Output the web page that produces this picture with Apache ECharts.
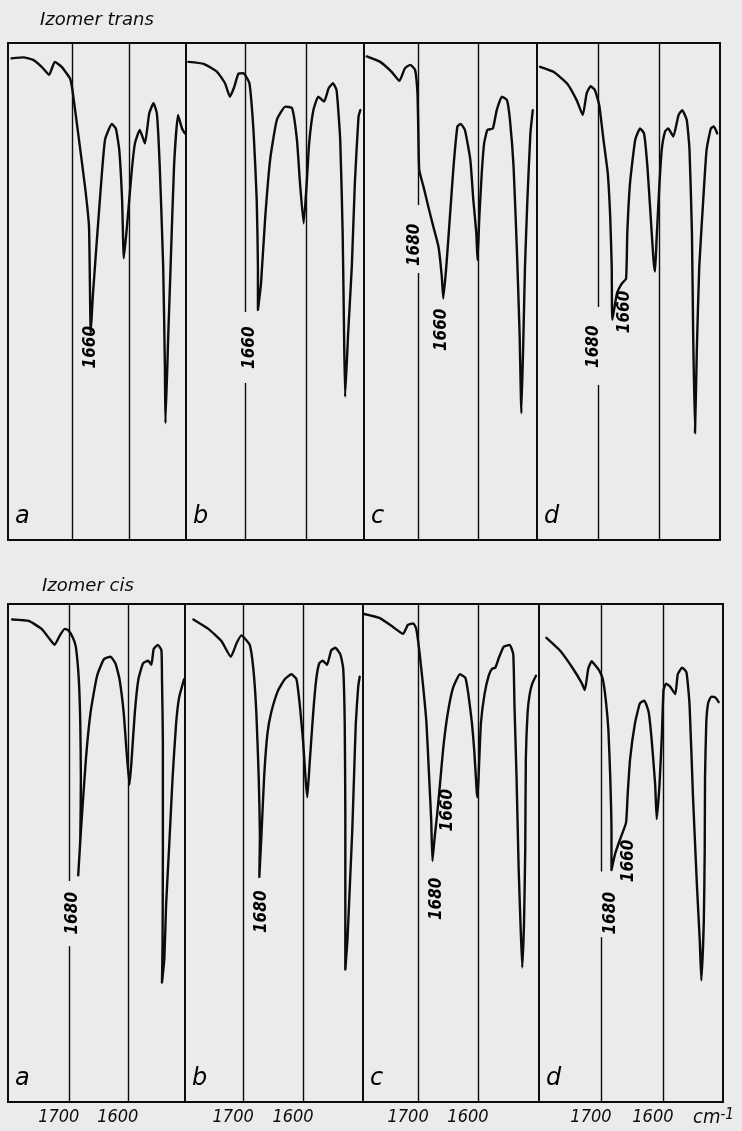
<!DOCTYPE html>
<html><head><meta charset="utf-8">
<script src="https://cdn.jsdelivr.net/npm/echarts@6.0.0/dist/echarts.min.js"></script>
<style>html,body{margin:0;padding:0;background:#ebebeb}#chart{width:742px;height:1131px}</style>
</head><body><div id="chart"></div>
<script>
// ---------- data ----------
const panelLetters = ['a', 'b', 'c', 'd'];
const rowTitles = ['Izomer trans', 'Izomer cis'];
const tickValues = [1700, 1600];
const unitLabel = ['cm', '-1'];

// wavenumber (cm-1), transmission (% of frame height)
const transA = [[1806,96.9],[1785,97.1],[1768,96.6],[1753,95.2],[1740,93.6],[1730,96.2],[1718,95.2],[1703.5,92.9],[1699,90.5],[1689,81.8],[1677,71.1],[1670,63],[1667,41.6],[1663,49.6],[1651,68.4],[1642,80.5],[1630,83.7],[1623,82.8],[1617,78.5],[1612,68.4],[1609,56.7],[1604,62.4],[1595.5,73.8],[1589.5,79.8],[1581,82.5],[1572,79.8],[1564.5,85.8],[1557,87.9],[1551,85.8],[1546,75.1],[1540,55],[1537,34.9],[1536,23.5],[1531,41.6],[1527,55],[1521,75.1],[1514,85.5],[1507,82.8],[1502,81.8]];
const transB = [[1793,96.2],[1768,95.8],[1746,94.2],[1733,91.9],[1725,89.2],[1718,91.1],[1711,93.8],[1703,93.9],[1693,91.9],[1686,81.8],[1681,68.4],[1679,55],[1679,46.3],[1674,51.6],[1667,65],[1659,76.5],[1648,84.5],[1634,87.2],[1623,86.9],[1615,80.5],[1610,71.8],[1604,63.7],[1599,71.8],[1595,79.8],[1588,86.5],[1580,89.2],[1570.5,88.2],[1563,90.9],[1556,91.9],[1550,90.5],[1544,80.5],[1540,61.7],[1538,44.3],[1536,28.8],[1531,41.6],[1525,55],[1520,71.8],[1514,85.2],[1511,86.5]];
const transC = [[1785.5,97.3],[1763,96.2],[1744,94.2],[1731,92.4],[1722,94.9],[1713,95.6],[1705,94.6],[1701,89.9],[1699.5,81.8],[1698,74.4],[1691,71.1],[1683,67.1],[1674.5,63],[1666,59],[1660.5,53],[1658,48.6],[1653,55],[1647,65],[1641,75.1],[1634.5,83.2],[1629,83.7],[1622,82.5],[1613,76.5],[1608,68.4],[1603,61.7],[1601,56.3],[1598,65],[1594,73.8],[1590,79.8],[1584.5,82.5],[1575.5,82.8],[1569,86.5],[1560.5,89.2],[1552,88.5],[1547,84.5],[1541,75.1],[1535.5,58.4],[1531,41.6],[1528,25.5],[1524.5,41.6],[1522,55],[1518,68.4],[1513,81.8],[1509,86.5]];
const transD = [[1795,95.2],[1773,94.2],[1751,91.9],[1735,88.5],[1725,85.5],[1718.5,89.9],[1712,91.3],[1705,90.5],[1698,87.5],[1691,80.5],[1684,73.8],[1680,65],[1677.5,55],[1676.5,44.3],[1669,49.6],[1661,51.6],[1654,52.6],[1652,61.7],[1647.5,71.8],[1639,80.5],[1631,82.8],[1624.5,81.8],[1619,75.1],[1613.6,65],[1609,56.3],[1606.5,54],[1604,60.4],[1599.5,71.1],[1595.5,78.5],[1590,82.2],[1585,82.8],[1576.5,81.2],[1568,85.5],[1562,86.5],[1554.5,84.5],[1550,78.5],[1546,61.7],[1544,41.6],[1541,21.5],[1538,38.2],[1534,55],[1527.5,68.4],[1522,78.5],[1515,82.8],[1510,83.2],[1504.5,81.8]];

const cisA = [[1796,96.9],[1768,96.6],[1746,95.0],[1732,92.9],[1724,91.8],[1715.5,93.6],[1707,95.0],[1700.5,94.7],[1693,93.2],[1688,91.4],[1683,84.9],[1680.5,76.1],[1679.5,65.2],[1680.5,52.8],[1684,45.5],[1679.5,54.3],[1671,68.8],[1663,78.3],[1652,85.6],[1640.5,88.9],[1629.5,89.4],[1621,88.1],[1614,84.9],[1607,78.3],[1602,70.3],[1597,63.7],[1593,69.6],[1588,78.3],[1582,84.9],[1574,88.1],[1565.5,88.6],[1560,87.8],[1556,91.0],[1549,91.8],[1543,90.7],[1542,84.9],[1540.5,72.5],[1540.5,50.6],[1541,32.4],[1542,24.0],[1538,28.8],[1535,39.7],[1529.5,52.1],[1524,65.2],[1518,76.1],[1513,81.2],[1504.5,84.9]];
const cisB = [[1783,96.9],[1758,95.0],[1736,92.5],[1720.5,89.4],[1711,92.1],[1703,93.7],[1689,91.8],[1683,87.0],[1678,78.3],[1674,65.2],[1672,53.5],[1673,45.2],[1669.5,53.5],[1665,65.2],[1659.5,73.9],[1653,78.3],[1641.5,82.7],[1630.5,84.9],[1619.5,85.9],[1611,84.9],[1605.5,79.8],[1600,72.5],[1596,65.2],[1593,61.2],[1589,68.1],[1583,78.3],[1578,84.9],[1573,88.1],[1567,88.6],[1560,87.8],[1553,90.7],[1546,91.2],[1537.5,89.8],[1533,87.0],[1530.5,76.1],[1529.5,57.9],[1529.5,39.7],[1529.5,26.6],[1526,32.4],[1522,43.3],[1518,54.3],[1515,65.2],[1512,76.1],[1508,83.4],[1505.5,85.4]];
const cisC = [[1790,98.0],[1764.6,97.2],[1742,95.4],[1725,94.0],[1717,95.8],[1708,96.1],[1703,95.0],[1698,90.7],[1691.5,83.4],[1686,76.1],[1681.5,65.2],[1678,56.4],[1676,48.4],[1672,53.5],[1668,57.9],[1663.5,63.7],[1658,71.0],[1651,77.6],[1642,83.0],[1630,85.9],[1621,85.2],[1616,81.9],[1610,76.1],[1606,70.3],[1602,62.3],[1600.5,61.2],[1598,68.1],[1595,76.1],[1589,81.9],[1582,85.6],[1576.5,87.0],[1571,87.2],[1565,89.2],[1557,91.4],[1547,91.8],[1541,89.9],[1539,79.8],[1535.5,65.2],[1532,47.0],[1529,36.1],[1526,27.0],[1523,36.1],[1521,50.6],[1520,68.8],[1517,78.3],[1513.5,81.9],[1509,84.1],[1503,85.6]];
const cisD = [[1788,93.2],[1766.5,90.7],[1745,87.0],[1731,84.1],[1726,82.7],[1720.5,87.0],[1715,88.5],[1710,87.8],[1703,86.7],[1697,84.9],[1692,80.5],[1688,74.7],[1685,65.2],[1683,54.3],[1683,46.6],[1677,49.9],[1669,52.8],[1659.5,56.1],[1657,61.5],[1653,68.8],[1645,76.1],[1637,80.1],[1630,80.6],[1623,78.3],[1618,72.5],[1612.5,63.7],[1610,56.8],[1605.5,63.7],[1601.6,73.9],[1599,82.7],[1595,84.0],[1589,83.5],[1580,81.9],[1576,85.9],[1569,87.2],[1562,86.3],[1557,79.8],[1551.5,61.5],[1545,43.3],[1540.5,32.4],[1538,24.4],[1534,36.1],[1532.5,50.6],[1532,65.2],[1530,76.1],[1527,80.1],[1522,81.4],[1515,81.2],[1510,80.3]];

// axis extent of each panel [left end, right end] in cm-1
const transRanges = [[1812,1500],[1797,1505],[1790,1502],[1800,1500]];
const cisRanges = [[1803,1503],[1797,1500],[1792,1498],[1800,1503]];

// peak annotations [cm-1, %, text]
const transPeakLabels = [[[1667,38.8,'1660']], [[1692,38.7,'1660']], [[1705,59.4,'1680'],[1660.5,42.3,'1660']], [[1708,38.9,'1680'],[1656,45.9,'1660']]];
const cisPeakLabels = [[[1693,37.9,'1680']], [[1669.5,38.2,'1680']], [[1669,40.8,'1680'],[1651,58.6,'1660']], [[1685,37.9,'1680'],[1656,48.4,'1660']]];

// breaks of the reference lines where labels are written [cm-1, from %, to %]
const transLineGaps = [[], [[1700,31.6,45.9]], [[1700,53.7,67.4]], [[1700,31.2,46.9]]];
const cisLineGaps = [[[1700,31.3,44.4]], [], [], [[1700,33.1,46.3]]];

// ---------- layout / style ----------
const INK = '#0c0c0c';
const FONT_NUM = '"Liberation Sans Narrow", "DejaVu Sans Condensed", "Liberation Sans", sans-serif';
const FONT_TXT = '"DejaVu Sans", sans-serif';
const rowBox = [{top: 43, height: 497}, {top: 604, height: 498}];
const panelBox = [
  [[8,178],[186,178],[364,173],[537,183]],
  [[8,177],[185,178],[363,176],[539,184]]
];
const titlePos = [{left: 40, top: 11}, {left: 42, top: 577}];

const rows = [
  {series: [transA, transB, transC, transD], ranges: transRanges, peaks: transPeakLabels, gaps: transLineGaps},
  {series: [cisA, cisB, cisC, cisD], ranges: cisRanges, peaks: cisPeakLabels, gaps: cisLineGaps}
];

const grid = [], xAxis = [], yAxis = [], series = [];
rows.forEach((row, r) => {
  row.series.forEach((data, p) => {
    const i = r * 4 + p;
    const [left, width] = panelBox[r][p];
    grid.push({left, width, top: rowBox[r].top, height: rowBox[r].height, show: true,
      containLabel: false, outerBoundsMode: 'none',
      borderColor: INK, borderWidth: 2, backgroundColor: 'transparent'});
    const isBottom = r === 1;
    const ax = {
      type: 'value', gridIndex: i, inverse: true,
      max: row.ranges[p][0], min: row.ranges[p][1],
      axisLine: {show: false}, axisTick: {show: false}, splitLine: {show: false},
      axisLabel: isBottom ? {
        show: true, customValues: tickValues, margin: 6,
        formatter: v => String(v),
        fontFamily: FONT_NUM, fontStyle: 'italic', fontSize: 18, color: INK,
        padding: [0, 20, 0, 0]
      } : {show: false}
    };
    if (isBottom && p === 3) {
      ax.name = '{m|' + unitLabel[0] + '}{s|' + unitLabel[1] + '}';
      ax.nameLocation = 'start';
      ax.nameGap = -30;
      ax.nameTextStyle = {
        padding: [32, 0, 0, 0],
        rich: {
          m: {fontFamily: FONT_NUM, fontStyle: 'italic', fontSize: 20, color: INK},
          s: {fontFamily: FONT_NUM, fontStyle: 'italic', fontSize: 15, color: INK, verticalAlign: 'top'}
        }
      };
    }
    xAxis.push(ax);
    yAxis.push({type: 'value', gridIndex: i, min: 0, max: 100, show: false});

    // reference lines at tick values, broken where a label sits
    const mlData = [];
    tickValues.forEach(t => {
      const gaps = row.gaps[p].filter(g => g[0] === t).sort((a, b) => a[1] - b[1]);
      let start = 0;
      gaps.forEach(g => { mlData.push([{coord: [t, start]}, {coord: [t, g[1]]}]); start = g[2]; });
      mlData.push([{coord: [t, start]}, {coord: [t, 100]}]);
    });

    series.push({
      type: 'line', xAxisIndex: i, yAxisIndex: i, data: data,
      symbol: 'none', showSymbol: false, smooth: 0.15, clip: true,
      lineStyle: {color: INK, width: 2.4, cap: 'round', join: 'round'},
      z: 3, silent: true,
      markLine: {silent: true, symbol: 'none', animation: false,
        label: {show: false}, emphasis: {disabled: true},
        lineStyle: {color: INK, width: 1.4, type: 'solid'}, data: mlData}
    });

    // peak labels
    series.push({
      type: 'scatter', xAxisIndex: i, yAxisIndex: i, symbolSize: 0, silent: true, z: 5,
      itemStyle: {color: '#000', opacity: 1},
      data: row.peaks[p].map(d => ({value: [d[0], d[1]], label: {formatter: d[2]}})),
      label: {show: true, position: 'inside', rotate: 90, fontFamily: FONT_NUM,
        fontStyle: 'italic', fontWeight: 'bold', fontSize: 17, color: '#000', opacity: 1,
        textBorderWidth: 0}
    });
    // panel letter at the left end of the axis
    series.push({
      type: 'scatter', xAxisIndex: i, yAxisIndex: i, symbolSize: 0, silent: true, z: 5,
      itemStyle: {color: '#000', opacity: 1},
      data: [{value: [row.ranges[p][0], 4.6], label: {formatter: panelLetters[p]}}],
      label: {show: true, position: 'right', distance: 7, fontFamily: FONT_TXT,
        fontStyle: 'italic', fontSize: 24, color: '#000', opacity: 1, textBorderWidth: 0}
    });
  });
});

const chart = echarts.init(document.getElementById('chart'), null, {renderer: 'canvas'});
chart.setOption({
  backgroundColor: '#ebebeb',
  animation: false,
  title: rowTitles.map((t, r) => ({
    text: t, left: titlePos[r].left, top: titlePos[r].top, padding: 0,
    textStyle: {fontFamily: FONT_TXT, fontStyle: 'italic', fontWeight: 'normal', fontSize: 18, color: INK}
  })),
  grid, xAxis, yAxis, series
});
</script></body></html>
